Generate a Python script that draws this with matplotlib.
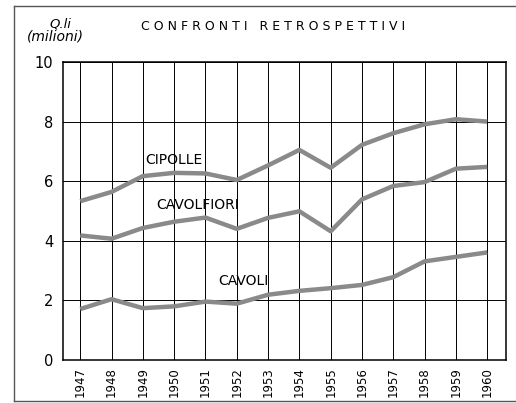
import numpy as np
import matplotlib
matplotlib.use("Agg")
import matplotlib.pyplot as plt
from matplotlib.lines import Line2D

years = [1947, 1948, 1949, 1950, 1951, 1952, 1953,
         1954, 1955, 1956, 1957, 1958, 1959, 1960]
cipolle = [5.33, 5.64, 6.17, 6.28, 6.26, 6.04, 6.53,
           7.05, 6.45, 7.22, 7.61, 7.91, 8.08, 8.00]
cavolfiori = [4.18, 4.07, 4.43, 4.64, 4.78, 4.40, 4.77,
              4.99, 4.32, 5.39, 5.84, 5.97, 6.42, 6.48]
cavoli = [1.71, 2.04, 1.74, 1.80, 1.96, 1.89, 2.19,
          2.32, 2.41, 2.52, 2.78, 3.31, 3.46, 3.61]
y_ticks = [0, 2, 4, 6, 8, 10]

fig = plt.figure(figsize=(5.16, 4.03), dpi=100)
ax = fig.add_axes([63 / 516, 1 - 360 / 403, (506 - 63) / 516, (360 - 62) / 403])

line_color = "#8a8a8a"
for series in (cipolle, cavolfiori, cavoli):
    ax.plot(years, series, color=line_color, lw=3.2, solid_capstyle="butt",
            solid_joinstyle="round", zorder=3)

ax.set_xlim(1946.45, 1960.6)
ax.set_ylim(0, 10)
ax.set_xticks(years)
ax.set_xticklabels([str(y) for y in years], rotation=90, fontsize=8.5)
ax.set_yticks(y_ticks)
ax.set_yticklabels([str(v) for v in y_ticks], fontsize=10.5)
ax.tick_params(axis="x", length=0, pad=5)
ax.tick_params(axis="y", length=0, pad=7)
ax.grid(True, color="black", lw=0.7)
for s in ax.spines.values():
    s.set_linewidth(1.1)

ax.text(1950.0, 6.48, "CIPOLLE", fontsize=10, ha="center", va="bottom")
ax.text(1950.76, 4.95, "CAVOLFIORI", fontsize=10, ha="center", va="bottom")
ax.text(1952.2, 2.4, "CAVOLI", fontsize=10, ha="center", va="bottom")

fig.text(273 / 516, 1 - 27 / 403, "C O N F R O N T I   R E T R O S P E T T I V I",
         fontsize=9, ha="center", va="center")
fig.text(60 / 516, 1 - 24 / 403, "Q.li", fontsize=9.5, style="italic",
         ha="center", va="center")
fig.text(55 / 516, 1 - 37 / 403, "(milioni)", fontsize=10, style="italic",
         ha="center", va="center")

# outer frame (left, top, bottom)
frame_color = "#555555"
fig.add_artist(Line2D([14 / 516, 14 / 516], [1 - 6 / 403, 1 - 401 / 403],
                      transform=fig.transFigure, color=frame_color, lw=1))
fig.add_artist(Line2D([14 / 516, 1], [1 - 6 / 403, 1 - 6 / 403],
                      transform=fig.transFigure, color=frame_color, lw=1))
fig.add_artist(Line2D([14 / 516, 1], [1 - 401 / 403, 1 - 401 / 403],
                      transform=fig.transFigure, color=frame_color, lw=1))

fig.savefig("out.png", dpi=100)
